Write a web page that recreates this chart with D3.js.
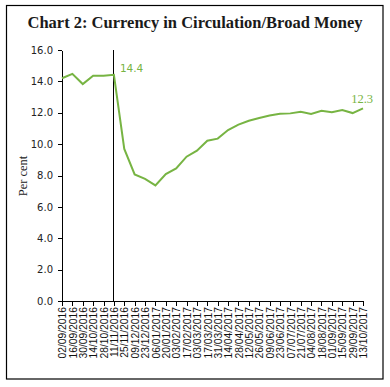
<!DOCTYPE html>
<html>
<head>
<meta charset="UTF-8">
<title>Chart 2</title>
<script src="https://cdn.jsdelivr.net/npm/d3@7"></script>
<style>
	body{margin:0;background:#fff;}
	.axis path,.axis line{fill:none;stroke:#000;shape-rendering:crispEdges;}
</style>
</head>
<body>
<script>
// fortnightly reporting dates
var dates = ["02/09/2016","16/09/2016","30/09/2016","14/10/2016","28/10/2016","11/11/2016",
	"25/11/2016","09/12/2016","23/12/2016","06/01/2017","20/01/2017","03/02/2017","17/02/2017",
	"03/03/2017","17/03/2017","31/03/2017","14/04/2017","28/04/2017","12/05/2017","26/05/2017",
	"09/06/2017","23/06/2017","07/07/2017","21/07/2017","04/08/2017","18/08/2017","01/09/2017",
	"15/09/2017","29/09/2017","13/10/2017"];
// currency in circulation as % of broad money
var ratio = [14.2,14.48,13.83,14.36,14.36,14.42,9.69,8.07,7.78,7.37,8.09,8.45,9.2,
	9.58,10.22,10.35,10.9,11.24,11.49,11.66,11.83,11.94,11.96,12.07,11.92,12.13,12.03,
	12.17,11.98,12.28];
var yTicks = [0,2,4,6,8,10,12,14,16];
var markDate = "11/11/2016";

var W = 390, H = 387;
var plotL = 62, plotR = 363, plotT = 50, plotB = 301;
var green = "#77b443";

var svg = d3.select("body").append("svg").attr("width",W).attr("height",H);

// frame
svg.append("rect").attr("x",6.5).attr("y",5.5).attr("width",376.5).attr("height",373.5)
	.attr("fill","none").attr("stroke","#000").attr("stroke-width",1.2);

svg.append("text").attr("x",195).attr("y",28).attr("text-anchor","middle")
	.style("font-family","'Liberation Serif','DejaVu Serif',serif").style("font-weight","bold")
	.style("font-size","16.5px").attr("fill","#1a1a1a")
	.text("Chart 2: Currency in Circulation/Broad Money");

var x = d3.scalePoint().domain(dates).range([plotL,plotR]);
var y = d3.scaleLinear().domain([0,16]).range([plotB,plotT]);

var yAxis = svg.append("g").attr("class","axis")
	.attr("transform","translate("+plotL+",0)")
	.call(d3.axisLeft(y).tickValues(yTicks).tickFormat(d3.format(".1f")).tickSize(4).tickSizeOuter(0));
yAxis.selectAll("text").style("font-family","'DejaVu Sans',sans-serif").style("font-size","10px")
	.attr("fill","#222").attr("x",-9);

var xAxis = svg.append("g").attr("class","axis")
	.attr("transform","translate(0,"+plotB+")")
	.call(d3.axisBottom(x).tickSize(5).tickSizeOuter(0));
xAxis.selectAll("text")
	.style("font-family","'Liberation Sans',Arial,sans-serif").style("font-size","10.3px")
	.attr("fill","#111")
	.attr("transform","rotate(-90)")
	.attr("text-anchor","end")
	.attr("x",-6).attr("y",0).attr("dy","0.36em");

svg.append("text").attr("transform","translate(27,176) rotate(-90)")
	.attr("text-anchor","middle")
	.style("font-family","'Liberation Serif',serif").style("font-size","12.5px").attr("fill","#222")
	.text("Per cent");

// demonetisation marker
svg.append("line").attr("x1",x(markDate)).attr("x2",x(markDate))
	.attr("y1",y(16)).attr("y2",y(0))
	.attr("stroke","#000").attr("stroke-width",1).style("shape-rendering","crispEdges");

var line = d3.line().x(function(d,i){return x(dates[i]);}).y(function(d){return y(d);});
svg.append("path").datum(ratio).attr("d",line)
	.attr("fill","none").attr("stroke",green).attr("stroke-width",2);

var mi = dates.indexOf(markDate);
svg.append("text").attr("x",x(markDate)+6).attr("y",y(ratio[mi])-3)
	.style("font-family","'DejaVu Sans',sans-serif").style("font-size","10.5px").attr("fill",green)
	.text(ratio[mi].toFixed(1));
var li = ratio.length-1;
svg.append("text").attr("x",x(dates[li])+10).attr("y",y(ratio[li])-5).attr("text-anchor","end")
	.style("font-family","'Liberation Serif',serif").style("font-size","12.5px").attr("fill",green)
	.text(ratio[li].toFixed(1));
</script>
</body>
</html>
